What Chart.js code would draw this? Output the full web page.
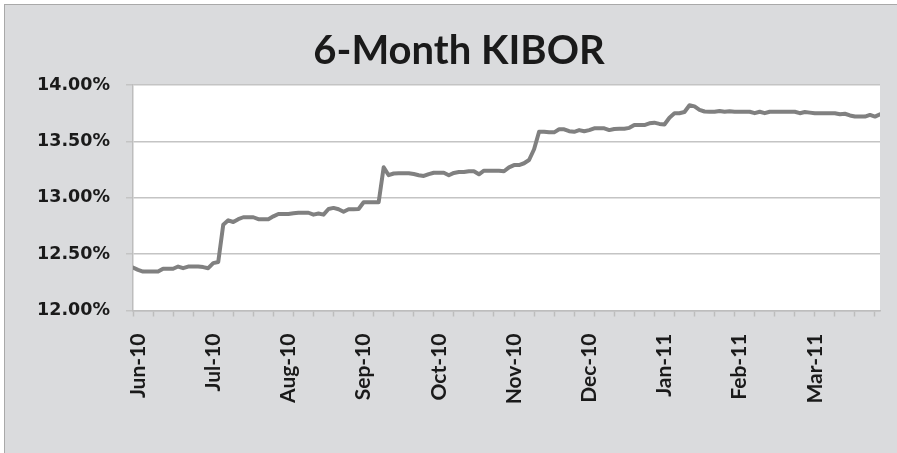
<!DOCTYPE html>
<html>
<head>
<meta charset="utf-8">
<script src="https://cdn.jsdelivr.net/npm/chart.js@4.4.1/dist/chart.umd.min.js"></script>
<style>
    html, body { margin: 0; padding: 0; background: #ffffff; }
    #wrap { position: relative; width: 897px; height: 453px; overflow: hidden; }
    #frame {
        position: absolute; left: 4px; top: 4px; width: 910px; height: 470px;
        background: #dadbdd; border: 1px solid #a9a9a9;
    }
    #kiborChart { position: absolute; left: 0; top: 0; }
    #chartTitle {
        position: absolute; left: 459px; top: 25px; transform: translateX(-50%);
        font: bold 40px/48px Lato, sans-serif; color: #1a1a1a; white-space: nowrap;
    }
</style>
</head>
<body>
<div id="wrap">
    <div id="frame"></div>
    <canvas id="kiborChart" width="897" height="453"></canvas>
    <div id="chartTitle">6-Month KIBOR</div>
</div>
<script>
// Datos: etiquetas de meses y serie KIBOR a 6 meses (%)
const months = ['Jun-10', 'Jul-10', 'Aug-10', 'Sep-10', 'Oct-10', 'Nov-10', 'Dec-10', 'Jan-11', 'Feb-11', 'Mar-11'];
const yTickValues = [12.0, 12.5, 13.0, 13.5, 14.0];
const kibor = [
    12.38, 12.36, 12.345, 12.345, 12.345, 12.345, 12.37, 12.37, 12.37, 12.39,
    12.375, 12.39, 12.39, 12.39, 12.385, 12.375, 12.42, 12.43, 12.76, 12.80,
    12.785, 12.81, 12.827, 12.827, 12.827, 12.81, 12.81, 12.81, 12.835, 12.856,
    12.856, 12.856, 12.862, 12.867, 12.867, 12.867, 12.85, 12.86, 12.85, 12.90,
    12.91, 12.898, 12.876, 12.898, 12.898, 12.90, 12.96, 12.96, 12.96, 12.96,
    13.27, 13.20, 13.215, 13.217, 13.217, 13.217, 13.21, 13.20, 13.193, 13.21,
    13.222, 13.222, 13.222, 13.20, 13.22, 13.228, 13.228, 13.235, 13.235, 13.208,
    13.24, 13.24, 13.24, 13.24, 13.235, 13.27, 13.29, 13.29, 13.306, 13.335,
    13.43, 13.586, 13.586, 13.58, 13.58, 13.607, 13.607, 13.59, 13.585, 13.60,
    13.59, 13.60, 13.616, 13.616, 13.616, 13.60, 13.61, 13.612, 13.612, 13.62,
    13.645, 13.645, 13.645, 13.66, 13.666, 13.655, 13.65, 13.71, 13.749, 13.749,
    13.76, 13.82, 13.81, 13.78, 13.765, 13.763, 13.763, 13.77, 13.763, 13.768,
    13.763, 13.763, 13.763, 13.763, 13.75, 13.763, 13.75, 13.763, 13.763, 13.763,
    13.763, 13.763, 13.763, 13.75, 13.76, 13.755, 13.749, 13.749, 13.749, 13.749,
    13.749, 13.74, 13.745, 13.73, 13.72, 13.72, 13.72, 13.735, 13.72, 13.74
];

const POINTS_PER_LABEL = 15;   // una etiqueta de mes cada 15 puntos
const POINTS_PER_TICK = 4;     // marca menor cada 4 puntos
const LABEL_OFFSET = 1;

// Fondo blanco del área de trazado
const plotBackground = {
    id: 'plotBackground',
    beforeDraw(chart) {
        const { ctx, chartArea } = chart;
        ctx.save();
        ctx.fillStyle = '#ffffff';
        ctx.fillRect(chartArea.left, chartArea.top, chartArea.right - chartArea.left, chartArea.bottom - chartArea.top);
        ctx.restore();
    }
};

function monthLabel(value) {
    const k = (value - LABEL_OFFSET) / POINTS_PER_LABEL;
    return Number.isInteger(k) && months[k] ? months[k] : '';
}

const ctx = document.getElementById('kiborChart').getContext('2d');
new Chart(ctx, {
    type: 'line',
    data: {
        datasets: [{
            label: '6-Month KIBOR',
            data: kibor.map((v, i) => ({ x: i, y: v })),
            borderColor: '#808080',
            borderWidth: 4,
            pointRadius: 0,
            tension: 0,
            borderJoinStyle: 'round',
            borderCapStyle: 'round'
        }]
    },
    options: {
        responsive: false,
        animation: false,
        layout: { padding: { left: 0, right: 17, top: 85, bottom: 0 } },
        plugins: {
            legend: { display: false },
            tooltip: { enabled: false },
            title: { display: false }
        },
        scales: {
            x: {
                type: 'linear',
                min: 0,
                max: kibor.length - 1,
                afterBuildTicks: (scale) => {
                    const values = new Set();
                    for (let v = 0; v < kibor.length; v += POINTS_PER_TICK) values.add(v);
                    months.forEach((m, k) => values.add(LABEL_OFFSET + k * POINTS_PER_LABEL));
                    scale.ticks = [...values].sort((a, b) => a - b).map(v => ({ value: v }));
                },
                afterFit: (scale) => {
                    scale.height = 142.5;
                    scale.paddingLeft = 0;
                    scale.paddingRight = 0;
                },
                ticks: {
                    autoSkip: false,
                    minRotation: 90,
                    maxRotation: 90,
                    padding: 17,
                    color: '#1a1a1a',
                    font: { family: 'Lato', size: 21, weight: 'bold' },
                    callback: (value) => monthLabel(value)
                },
                grid: {
                    drawOnChartArea: false,
                    tickLength: 6,
                    tickWidth: 1.5,
                    tickColor: (c) => (c.tick && c.tick.value % POINTS_PER_TICK === 0) ? '#bdbdbd' : 'rgba(0,0,0,0)'
                },
                border: { color: '#bdbdbd', width: 1.5 }
            },
            y: {
                min: 12,
                max: 14,
                afterBuildTicks: (scale) => {
                    scale.ticks = yTickValues.map(v => ({ value: v }));
                },
                afterFit: (scale) => {
                    scale.width = 133;
                    scale.paddingTop = 0;
                },
                ticks: {
                    padding: 16,
                    color: '#1a1a1a',
                    font: { family: 'DejaVu Sans', size: 17.5, weight: 'bold' },
                    callback: (value) => value.toFixed(2) + '%'
                },
                grid: {
                    color: '#c4c4c4',
                    lineWidth: 1.5,
                    tickLength: 7
                },
                border: { color: '#bdbdbd', width: 1.5 }
            }
        }
    },
    plugins: [plotBackground]
});
</script>
</body>
</html>
